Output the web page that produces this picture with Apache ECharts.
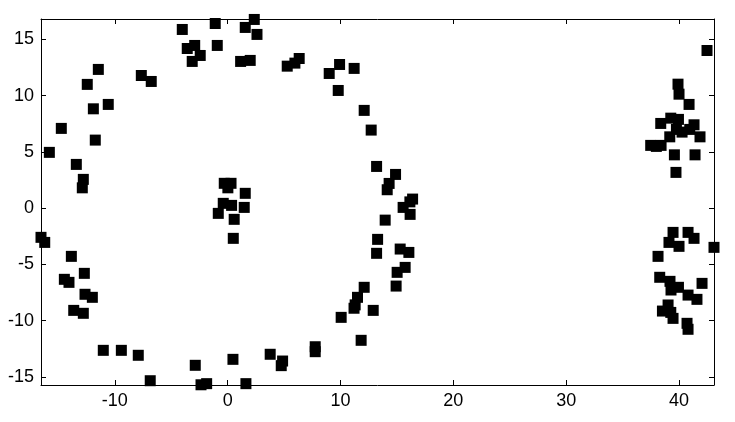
<!DOCTYPE html>
<html>
<head>
<meta charset="utf-8">
<script src="https://cdn.jsdelivr.net/npm/echarts@6/dist/echarts.min.js"></script>
<style>
html,body{margin:0;padding:0;background:#fff;}
#chart{width:735px;height:422px;}
</style>
</head>
<body>
<div id="chart"></div>
<script>
// x values of the points
const xValues = [
  -15.80,-14.74,-13.41,-12.79,-12.88,-11.73,-11.90,-10.58,-12.44,-11.46,
  -7.65,-6.77,-4.02,-3.58,-2.92,-2.43,-3.14,-1.10,-0.92,1.15,
  2.00,1.56,2.36,2.60,5.28,5.96,6.34,9.00,9.92,11.21,
  9.80,12.10,12.72,13.20,14.88,14.31,14.14,16.39,16.15,15.55,
  16.17,13.96,13.29,13.20,15.29,16.06,15.73,15.02,14.93,12.10,
  11.51,11.30,11.20,12.90,10.06,11.83,7.76,7.76,3.77,4.87,
  4.75,-0.39,0.35,1.47,-0.83,0.58,0.50,-0.30,0.30,0.02,
  1.56,-16.54,-16.21,-13.85,-12.70,-14.47,-14.06,-12.64,-11.99,-13.64,
  -12.79,-11.02,-9.42,-7.92,-6.86,-2.87,-2.36,-1.86,0.47,1.62,
  42.48,39.91,40.00,40.89,38.38,39.27,39.95,39.77,40.27,40.95,
  41.33,39.18,41.86,37.49,37.99,38.41,39.59,41.42,39.73,
  43.10,39.47,40.80,41.33,39.11,40.00,38.14,38.29,39.20,39.29,
  39.95,42.04,40.80,41.59,39.03,38.53,39.27,39.47,40.71,40.80
];
// y values of the points
const yValues = [
  4.95,7.08,3.88,2.55,1.80,6.04,8.82,9.21,10.99,12.32,
  11.78,11.25,15.87,14.18,14.45,13.56,13.03,16.40,14.45,13.03,
  13.12,16.05,16.76,15.43,12.61,12.88,13.29,11.96,12.76,12.41,
  10.45,8.68,6.93,3.70,2.99,2.19,1.63,0.80,0.55,0.06,
  -0.56,-1.07,-2.78,-4.02,-3.64,-3.94,-5.27,-5.71,-6.93,-7.04,
  -7.93,-8.60,-8.90,-9.09,-9.71,-11.75,-12.32,-12.76,-12.99,-13.59,
  -14.00,0.42,0.24,0.06,-0.47,-1.00,-2.69,2.20,2.20,1.80,
  1.31,-2.60,-3.05,-4.29,-5.80,-6.33,-6.60,-7.66,-7.93,-9.09,
  -9.35,-12.64,-12.64,-13.08,-15.34,-13.97,-15.70,-15.60,-13.44,-15.60,
  14.00,11.01,10.12,9.21,7.52,7.99,7.88,6.99,6.75,6.99,
  7.40,6.33,6.33,5.57,5.48,5.57,4.73,4.73,3.17,
  -3.49,-2.16,-2.16,-2.69,-3.05,-3.40,-4.29,-6.15,-6.51,-7.28,
  -7.04,-6.69,-7.73,-8.11,-8.61,-9.15,-9.27,-9.80,-10.24,-10.77
];
const xTicks = [-10, 0, 10, 20, 30, 40];
const yTicks = [-15, -10, -5, 0, 5, 10, 15];
const xRange = [-16.54, 43.10];
const yRange = [-15.72, 16.80];

const points = xValues.map((x, i) => [x, yValues[i]]);

const chart = echarts.init(document.getElementById('chart'), null, {renderer: 'canvas'});
const lineStyle = {color: '#000', width: 1};
const labelFont = {color: '#000', fontSize: 18, fontFamily: 'Liberation Sans, Arial, sans-serif'};
chart.setOption({
  animation: false,
  backgroundColor: '#fff',
  grid: {left: 41, right: 21, top: 19, bottom: 37, containLabel: false},
  xAxis: [
    {
      type: 'value', position: 'bottom', min: xRange[0], max: xRange[1],
      axisLine: {show: true, onZero: false, lineStyle},
      axisTick: {show: true, inside: true, length: 5, customValues: xTicks, lineStyle},
      axisLabel: Object.assign({show: true, margin: 7, customValues: xTicks}, labelFont),
      splitLine: {show: false}
    },
    {
      type: 'value', position: 'top', min: xRange[0], max: xRange[1],
      axisLine: {show: true, onZero: false, lineStyle},
      axisTick: {show: true, inside: true, length: 5, customValues: xTicks, lineStyle},
      axisLabel: {show: false},
      splitLine: {show: false}
    }
  ],
  yAxis: [
    {
      type: 'value', position: 'left', min: yRange[0], max: yRange[1],
      axisLine: {show: true, onZero: false, lineStyle},
      axisTick: {show: true, inside: true, length: 5, customValues: yTicks, lineStyle},
      axisLabel: Object.assign({show: true, margin: 7, customValues: yTicks}, labelFont),
      splitLine: {show: false}
    },
    {
      type: 'value', position: 'right', min: yRange[0], max: yRange[1],
      axisLine: {show: true, onZero: false, lineStyle},
      axisTick: {show: true, inside: true, length: 5, customValues: yTicks, lineStyle},
      axisLabel: {show: false},
      splitLine: {show: false}
    }
  ],
  series: [{
    type: 'scatter',
    xAxisIndex: 0, yAxisIndex: 0,
    symbol: 'rect',
    symbolSize: 11,
    itemStyle: {color: '#000', opacity: 1},
    emphasis: {disabled: true},
    data: points,
    clip: false
  }]
});
</script>
</body>
</html>
